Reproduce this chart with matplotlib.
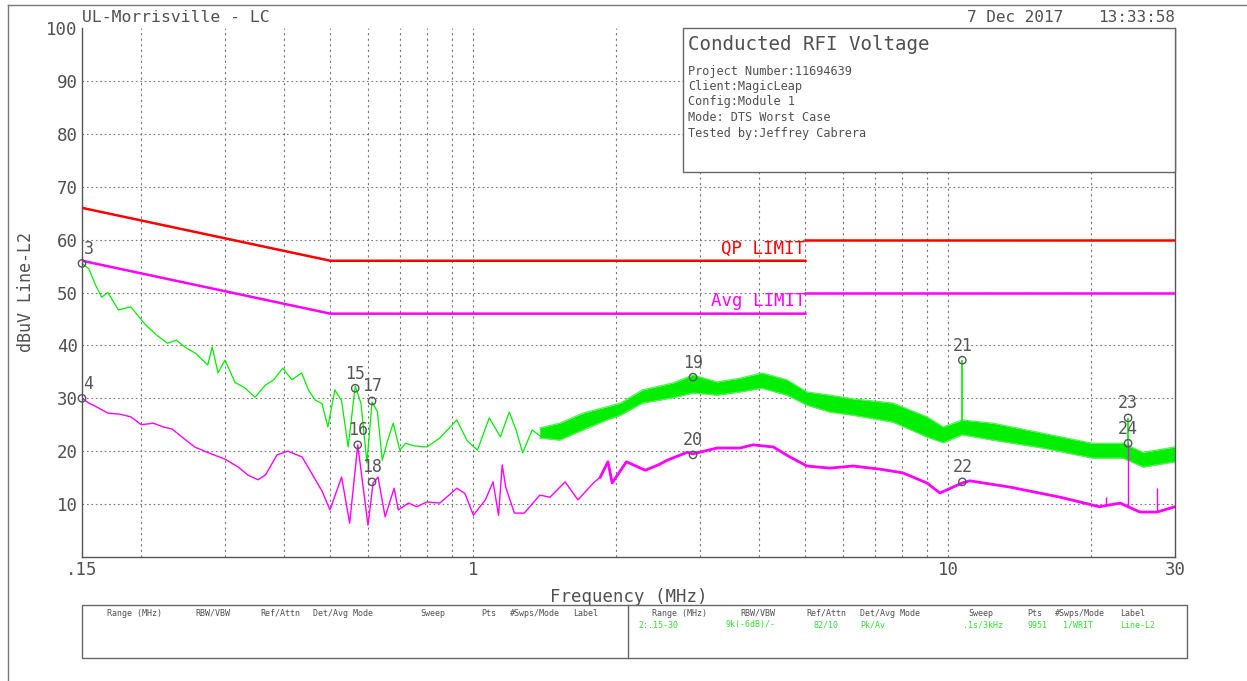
import matplotlib
matplotlib.use("Agg")
import matplotlib.pyplot as plt
from matplotlib.patches import Rectangle
from matplotlib.lines import Line2D

plt.rcParams["font.family"] = ["DejaVu Sans Mono", "DejaVu Sans"]

# ---------------- data ----------------
# Peak (green) trace, low-frequency part: frequency (MHz), level (dBuV)
pk_freq = [0.150, 0.155, 0.160, 0.165, 0.170, 0.179, 0.190, 0.204, 0.215, 0.227,
           0.237, 0.247, 0.260, 0.276, 0.282, 0.290, 0.300, 0.315, 0.330, 0.347,
           0.365, 0.380, 0.397, 0.415, 0.435, 0.450, 0.464, 0.480, 0.494, 0.511,
           0.528, 0.545, 0.564, 0.580, 0.597, 0.612, 0.628, 0.643, 0.660, 0.678,
           0.700, 0.720, 0.750, 0.798, 0.850, 0.923, 0.970, 1.020, 1.080, 1.140,
           1.190, 1.230, 1.270, 1.330, 1.400]
pk_level = [55.5, 54.5, 51.5, 49.1, 50.0, 46.7, 47.3, 43.9, 42.0, 40.4,
            41.0, 39.7, 38.5, 36.3, 39.7, 34.8, 37.2, 33.0, 32.0, 30.2,
            32.5, 33.5, 35.7, 33.5, 34.8, 31.5, 29.7, 29.0, 24.6, 31.6,
            29.5, 20.8, 32.3, 29.0, 17.8, 29.3, 27.5, 18.3, 22.0, 25.3,
            20.2, 21.5, 21.0, 20.8, 22.5, 25.9, 22.0, 20.2, 26.3, 22.7,
            27.4, 24.0, 19.7, 24.0, 22.5]

# Peak (green) trace, noisy high-frequency part: band low / high edges
pkb_freq = [1.38, 1.52, 1.70, 1.91, 2.04, 2.27, 2.63, 2.90, 3.26, 3.64,
            4.05, 4.57, 5.04, 5.63, 6.30, 7.64, 9.01, 9.75, 10.7, 12.4,
            15.8, 20.1, 23.3, 25.7, 30.0]
pkb_hi = [24.4, 25.3, 27.2, 28.4, 29.1, 31.6, 32.9, 34.4, 33.1, 33.8,
          34.8, 33.5, 31.2, 30.6, 29.9, 29.1, 26.5, 24.6, 25.9, 25.3,
          23.4, 21.5, 21.5, 19.8, 20.8]
pkb_lo = [22.5, 22.1, 24.0, 25.9, 26.8, 29.1, 30.1, 31.0, 30.6, 31.2,
          31.9, 30.6, 28.7, 27.4, 26.8, 25.5, 22.7, 21.6, 23.1, 22.1,
          20.6, 18.7, 18.7, 17.0, 18.0]
pk_spike_freq = [10.7, 23.9]
pk_spike_base = [25.5, 20.5]
pk_spike_top = [37.2, 26.3]

# Average (magenta) trace
av_freq = [0.150, 0.155, 0.160, 0.170, 0.180, 0.190, 0.200, 0.212, 0.222, 0.232,
           0.245, 0.259, 0.275, 0.300, 0.320, 0.335, 0.352, 0.365, 0.386, 0.407,
           0.436, 0.465, 0.480, 0.499, 0.528, 0.549, 0.571, 0.600, 0.615, 0.630,
           0.652, 0.681, 0.695, 0.730, 0.760, 0.798, 0.850, 0.923, 0.960, 1.000,
           1.060, 1.100, 1.130, 1.150, 1.170, 1.220, 1.280, 1.380, 1.450, 1.560,
           1.660, 1.790, 1.850, 1.920, 1.960, 2.100, 2.300, 2.450, 2.560, 2.820,
           2.900, 3.260, 3.640, 3.880, 4.280, 4.640, 5.040, 5.630, 6.300, 7.180,
           8.020, 9.010, 9.600, 10.70, 11.10, 13.50, 17.20, 20.80, 23.00, 23.90,
           25.30, 27.50, 30.00]
av_level = [30.0, 29.1, 28.5, 27.2, 27.0, 26.5, 25.0, 25.3, 24.6, 24.2,
            22.5, 20.8, 19.8, 18.5, 17.0, 15.5, 14.6, 15.5, 19.3, 20.0,
            18.9, 14.6, 12.5, 8.9, 15.1, 6.4, 21.2, 6.0, 14.0, 15.1,
            7.6, 13.0, 8.9, 10.2, 9.5, 10.4, 10.2, 13.0, 12.0, 7.9,
            10.8, 14.2, 7.9, 17.4, 13.2, 8.3, 8.3, 11.7, 11.3, 14.2,
            10.8, 14.0, 15.1, 18.0, 14.0, 18.0, 16.4, 17.4, 18.3, 19.8,
            19.5, 20.6, 20.6, 21.2, 20.8, 18.9, 17.2, 16.8, 17.2, 16.6,
            15.9, 14.0, 12.1, 14.0, 14.4, 13.2, 11.3, 9.5, 10.2, 9.5,
            8.5, 8.5, 9.5]
av_spike_freq = [21.5, 23.9, 27.5]
av_spike_base = [9.8, 9.5, 8.5]
av_spike_top = [11.3, 21.5, 13.0]

# Limits
qp_freq = [0.15, 0.5, 5.0]
qp_level = [66, 56, 56]
qp2_freq = [5.0, 30.0]
qp2_level = [60, 60]
avl_freq = [0.15, 0.5, 5.0]
avl_level = [56, 46, 46]
avl2_freq = [5.0, 30.0]
avl2_level = [50, 50]

# Markers
mk_id = ["3", "4", "15", "16", "17", "18", "19", "20", "21", "22", "23", "24"]
mk_freq = [0.150, 0.150, 0.564, 0.571, 0.612, 0.612, 2.90, 2.90, 10.7, 10.7, 23.9, 23.9]
mk_level = [55.5, 30.0, 31.9, 21.2, 29.5, 14.2, 34.0, 19.3, 37.2, 14.2, 26.3, 21.5]

x_ticks = [0.15, 1, 10, 30]
x_ticklabels = [".15", "1", "10", "30"]
y_ticks = [10, 20, 30, 40, 50, 60, 70, 80, 90, 100]
x_grid = [0.2, 0.3, 0.4, 0.5, 0.6, 0.7, 0.8, 0.9, 1, 2, 3, 4, 5, 6, 7, 8, 9, 10, 20]

# ---------------- figure ----------------
W, H = 1247, 681
fig = plt.figure(figsize=(W / 100, H / 100), dpi=100)
ax = fig.add_axes([82 / W, 1 - 557 / H, (1175 - 82) / W, (557 - 28) / H])

GREEN = "#00ee00"
MAG = "#ff00ff"
RED = "#ff0000"
TXT = "#505050"

ax.set_xscale("log")
ax.set_xlim(0.15, 30)
ax.set_ylim(0, 100)

# grid
for g in x_grid:
    ax.axvline(g, color="#777777", lw=0.8, ls=(0, (2, 3)), zorder=0)
for g in y_ticks[:-1]:
    ax.axhline(g, color="#777777", lw=0.8, ls=(0, (1.5, 2.5)), zorder=0)

# limits
ax.plot(qp_freq, qp_level, color=RED, lw=1.8, zorder=3)
ax.plot(qp2_freq, qp2_level, color=RED, lw=1.8, zorder=3)
ax.plot(avl_freq, avl_level, color=MAG, lw=1.8, zorder=3)
ax.plot(avl2_freq, avl2_level, color=MAG, lw=1.8, zorder=3)
ax.text(5.0, 56.6, "QP LIMIT", color=RED, ha="right", va="bottom", fontsize=12.5)
ax.text(5.0, 46.6, "Avg LIMIT", color=MAG, ha="right", va="bottom", fontsize=12.5)

# traces
ax.plot(pk_freq, pk_level, color=GREEN, lw=0.9, zorder=2)
ax.fill_between(pkb_freq, pkb_lo, pkb_hi, color=GREEN, lw=0, zorder=2)
ax.plot(pkb_freq, pkb_lo, color="#55f055", lw=0.9, zorder=2)
ax.plot(pkb_freq, pkb_hi, color="#55f055", lw=0.9, zorder=2)
ax.vlines(pk_spike_freq, pk_spike_base, pk_spike_top, color=GREEN, lw=1.2, zorder=2)

ax.plot(av_freq, av_level, color=MAG, lw=1.0, zorder=2)
hf_f = [f for f in av_freq if f >= 1.8]
hf_l = [l for f, l in zip(av_freq, av_level) if f >= 1.8]
ax.plot(hf_f, hf_l, color=MAG, lw=2.0, zorder=2)
ax.vlines(av_spike_freq, av_spike_base, av_spike_top, color=MAG, lw=1.0, zorder=2)

# markers
ax.scatter(mk_freq, mk_level, s=28, facecolors="none", edgecolors="#555555",
           linewidths=1.0, zorder=5, clip_on=False)
for i, f, l in zip(mk_id, mk_freq, mk_level):
    left = f < 0.16
    ax.annotate(i, (f, l), xytext=(1 if left else 0, 4), textcoords="offset points",
                ha="left" if left else "center", va="bottom",
                fontsize=12, color="#555555", zorder=6)

# ticks & spines
ax.set_xticks(x_ticks)
ax.set_xticklabels(x_ticklabels)
ax.set_xticks([], minor=True)
ax.set_yticks(y_ticks)
ax.tick_params(length=0, labelsize=12.5, labelcolor=TXT, pad=3)
for s in ["left", "bottom", "right"]:
    ax.spines[s].set_color("#555555")
    ax.spines[s].set_linewidth(1.0)
ax.spines["top"].set_visible(False)
ax.set_xlabel("Frequency (MHz)", fontsize=12.5, color=TXT, labelpad=6)
ax.set_ylabel("dBuV Line-L2", fontsize=12, color=TXT, labelpad=8)

# info box (figure coords)
def fx(px):
    return px / W

def fy(py):
    return 1 - py / H

fig.patches.append(Rectangle((fx(683), fy(172)), fx(1175) - fx(683), fy(28) - fy(172),
                             transform=fig.transFigure, facecolor="white",
                             edgecolor="#666666", lw=1.0, zorder=10))
fig.text(fx(688), fy(45), "Conducted RFI Voltage", fontsize=13.8, color=TXT,
         va="center", zorder=11)
info = ["Project Number:11694639", "Client:MagicLeap", "Config:Module 1",
        "Mode: DTS Worst Case", "Tested by:Jeffrey Cabrera"]
for k, t in enumerate(info):
    fig.text(fx(688), fy(71 + k * 15.5), t, fontsize=8.6, color=TXT, va="center", zorder=11)

# header
fig.text(fx(82), fy(17), "UL-Morrisville - LC", fontsize=11.8, color=TXT, va="center")
fig.text(fx(967), fy(17), "7 Dec 2017", fontsize=11.5, color=TXT, va="center", ha="left")
fig.text(fx(1175), fy(17), "13:33:58", fontsize=11.5, color=TXT, va="center", ha="right")

# outer frame lines
fig.add_artist(Line2D([fx(8), fx(8)], [fy(5), 0], transform=fig.transFigure,
                      color="#777777", lw=1.0))
fig.add_artist(Line2D([fx(8), 1], [fy(5), fy(5)], transform=fig.transFigure,
                      color="#777777", lw=1.0))

# bottom table
fig.patches.append(Rectangle((fx(82), fy(658)), fx(1187) - fx(82), fy(605) - fy(658),
                             transform=fig.transFigure, facecolor="none",
                             edgecolor="#666666", lw=1.0))
fig.add_artist(Line2D([fx(628), fx(628)], [fy(605), fy(658)], transform=fig.transFigure,
                      color="#666666", lw=1.0))
hdr = ["Range (MHz)", "RBW/VBW", "Ref/Attn", "Det/Avg Mode", "Sweep", "Pts",
       "#Swps/Mode", "Label"]
hdr_x_left = [107, 195, 260, 313, 420, 481, 510, 573]
hdr_x_right = [652, 740, 806, 860, 968, 1027, 1055, 1120]
vals = ["2:.15-30", "9k(-6dB)/-", "82/10", "Pk/Av", ".1s/3kHz", "9951", "1/WRIT", "Line-L2"]
vals_x = [638, 726, 813, 860, 963, 1027, 1063, 1120]
for t, x in zip(hdr, hdr_x_left):
    fig.text(fx(x), fy(613), t, fontsize=6, color=TXT, va="center")
for t, x in zip(hdr, hdr_x_right):
    fig.text(fx(x), fy(613), t, fontsize=6, color=TXT, va="center")
for t, x in zip(vals, vals_x):
    fig.text(fx(x), fy(625), t, fontsize=6, color="#33dd33", va="center")

fig.savefig("out.png", dpi=100, facecolor="white")
